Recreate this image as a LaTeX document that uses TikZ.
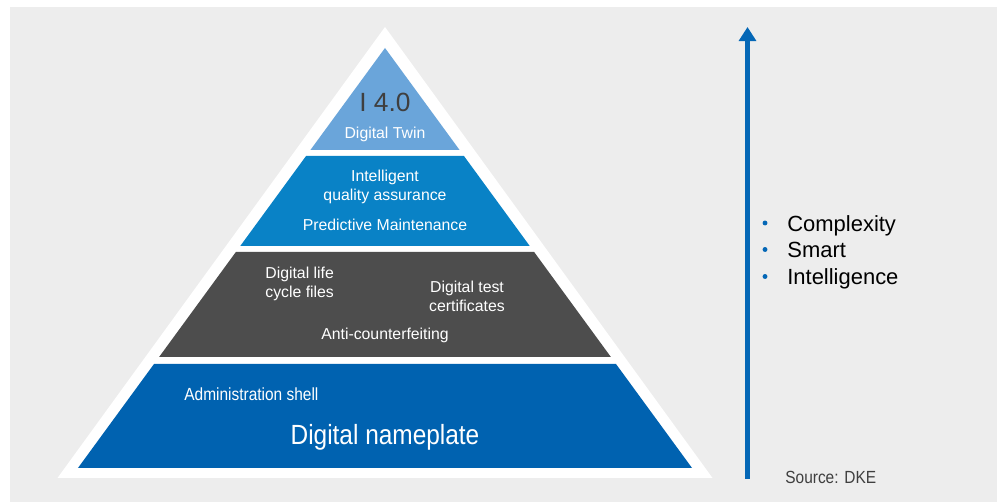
\documentclass[tikz,border=0pt]{standalone}
\usepackage{fontspec}
\setmainfont{Liberation Sans}
\newfontfamily\narrowfont{Liberation Sans}[FakeStretch=0.88]
\usepackage{tikz}
\usetikzlibrary{arrows.meta}
\definecolor{bggray}{HTML}{EDEDED}
\definecolor{twinblue}{HTML}{6AA5DA}
\definecolor{qablue}{HTML}{0982C6}
\definecolor{filegray}{HTML}{4D4D4D}
\definecolor{plateblue}{HTML}{0062B0}
\definecolor{arrowblue}{HTML}{0467B6}
\definecolor{textdark}{HTML}{3F3F3F}
\tikzset{
  layertext/.style={text=white, font=\fontsize{9}{10.8}\selectfont, inner sep=0pt},
  sidetext/.style={text=black, font=\fontsize{12.5}{15}\selectfont, anchor=base west, inner sep=0pt},
  bulletdot/.style={circle, fill=arrowblue, minimum size=2.8pt, inner sep=0pt}
}
\newcommand{\pyrlayer}[4] {\pgfmathsetmacro{\wtop}{0.731*(#2-48)}\pgfmathsetmacro{\wbot}{0.731*(#3-48)}
  \fill [#4] (385-\wtop,#2) -- (385+\wtop,#2) -- (385+\wbot,#3) -- (385-\wbot,#3) -- cycle;
  \coordinate (#1) at (385,{(#2+#3)/2});}
\newcommand{\sideitem}[3] {\node (#1dot) at (765,#2-8.5) [bulletdot] {};
  \node (#1) at (787,#2) [sidetext] {#3};}

\begin{document}
\begin{tikzpicture}[x=0.02cm, y=-0.02cm]

\useasboundingbox (0,0) rectangle (997,502);
\fill [white] (0,0) rectangle (997,502);
\fill [bggray] (10,7) rectangle (997,502);

% pyramid
\fill [white] (385,27) -- (712.5,478) -- (57.5,478) -- cycle;
\pyrlayer {twin}{48}{150}{twinblue};
\pyrlayer {quality}{156}{246}{qablue};
\pyrlayer {files}{252}{357}{filegray};
\pyrlayer {plate}{364}{468}{plateblue};

\node (i40) at (385,102) [text=textdark, font=\fontsize{15}{18}\selectfont, inner sep=0pt] {I 4.0};
\node (dtwin) at (385,134) [layertext] {Digital Twin};

\node (intel) at (385,186.5) [layertext, align=center] {Intelligent\\quality assurance};
\node (predm) at (385,225) [layertext] {Predictive Maintenance};

\node (lcf) at (265,284) [layertext, anchor=west, align=left] {Digital life\\cycle files};
\node (dtc) at (467,296.5) [layertext, align=center] {Digital test\\certificates};
\node (anti) at (385,335) [layertext] {Anti-counterfeiting};

\node (admin) at (184,394) [layertext, anchor=west, font=\narrowfont\fontsize{10}{12}\selectfont] {Administration shell};
\node (dnp) at (385,437) [layertext, font=\narrowfont\fontsize{15.8}{19}\selectfont] {Digital nameplate};

% complexity arrow
\coordinate (arrbot) at (747.5,479);
\coordinate (arrtop) at (747.5,27);
\draw [arrowblue, line width=3.4pt, -{Triangle[width=9.6pt,length=8pt]}] (arrbot) -- (arrtop);

\sideitem {cplx}{231.5}{Complexity};
\sideitem {smart}{258}{Smart};
\sideitem {intl}{285}{Intelligence};

\node (src) at (785,477) [anchor=west, inner sep=0pt, text=textdark, font=\narrowfont\fontsize{10}{12}\selectfont] {Source: DKE};

\end{tikzpicture}
\end{document}
